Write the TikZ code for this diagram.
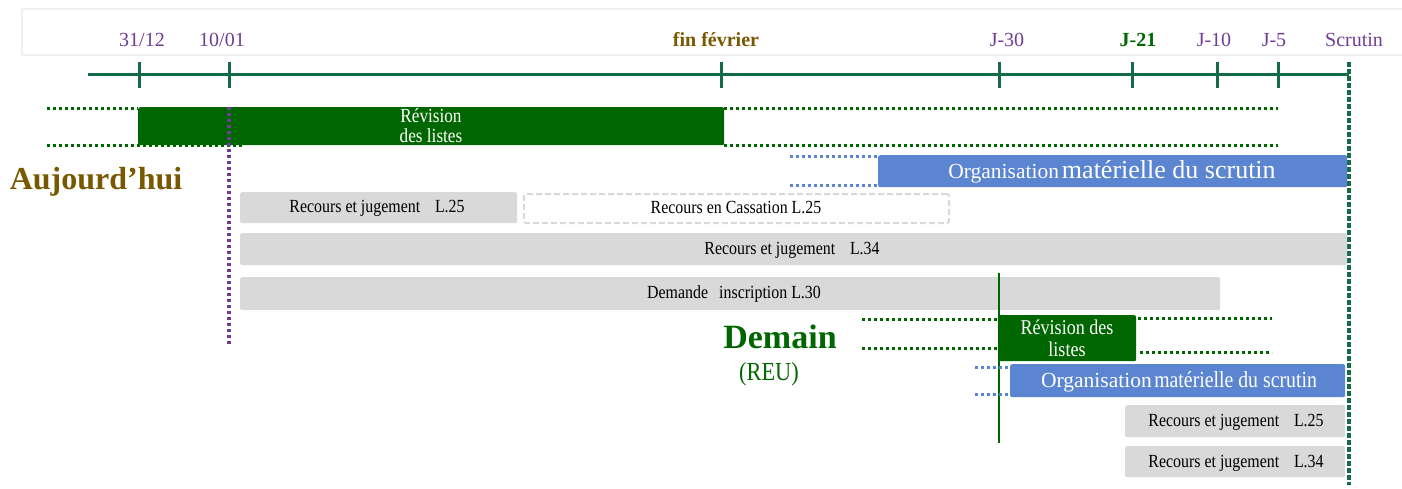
\documentclass[tikz,border=0pt]{standalone}
\usepackage{fontspec}
\setmainfont{Liberation Serif}
\newfontfamily\cond{Liberation Serif}[FakeStretch=0.86]
\definecolor{axisgreen}{RGB}{20,108,70}
\definecolor{boxgreen}{RGB}{0,102,0}
\definecolor{labpurple}{RGB}{112,60,150}
\definecolor{brownish}{RGB}{120,88,0}
\definecolor{orgblue}{RGB}{91,133,208}
\definecolor{boxgray}{RGB}{217,217,217}
\definecolor{framegray}{RGB}{240,240,240}
\newcommand{\fsz}[1]{\fontsize{#1}{#1}\selectfont}
\begin{document}
\begin{tikzpicture}[x=1pt,y=-1pt,
  datelab/.style={text=labpurple,font=\fsz{20}},
  graytxt/.style={font=\cond\fsz{18.5},inner sep=0pt},
  graybox/.style={fill=boxgray,rounded corners=2pt,inner sep=0pt,anchor=north west},
  dashbox/.style={draw=boxgray,line width=2pt,dash pattern=on 6pt off 3pt,fill=white,rounded corners=2pt,inner sep=0pt,anchor=north west},
  greenbox/.style={fill=boxgreen,inner sep=0pt,anchor=north west,rounded corners=2pt},
  bluebox/.style={fill=orgblue,inner sep=0pt,anchor=north west,rounded corners=2pt},
  gdots/.style={draw=boxgreen,line width=3pt,dash pattern=on 3pt off 3pt},
  bdots/.style={draw=orgblue,line width=3pt,dash pattern=on 3pt off 3pt},
  tickmark/.style={draw=axisgreen,line width=3pt}]
\useasboundingbox (0,0) rectangle (1402,488);
% header frame
\draw[framegray,line width=1.5pt] (1405,9) -- (22,9) -- (22,55) -- (1405,55);
% date labels
\node[datelab] (d1) at (142,40) {31/12};
\node[datelab] (d2) at (222,40) {10/01};
\node[text=brownish,font=\bfseries\fsz{20}] (d3) at (716,40) {fin février};
\node[datelab] (d4) at (1007,40) {J-30};
\node[text=boxgreen,font=\bfseries\fsz{20}] (d5) at (1138,40) {J-21};
\node[datelab] (d6) at (1214,40) {J-10};
\node[datelab] (d7) at (1274,40) {J-5};
\node[datelab] (d8) at (1354,40) {Scrutin};
% axis
\coordinate (axL) at (88,74);
\coordinate (axR) at (1349,74);
\draw[tickmark] (axL) -- (axR);
\foreach \x in {139,229,721,999,1132,1217,1278}{\draw[tickmark] (\x,62) -- (\x,88);}
% scrutin line
\coordinate (scT) at (1349,62);
\coordinate (scB) at (1349,485);
\draw[draw=axisgreen,line width=4.5pt,dash pattern=on 4.5pt off 2.5pt] (scT) -- (scB);
% revision 1
\coordinate (g1a) at (47,108); \coordinate (g1b) at (138,108);
\coordinate (g1c) at (47,145); \coordinate (g1d) at (244,145);
\coordinate (g1e) at (724,108); \coordinate (g1f) at (1278,108);
\coordinate (g1g) at (724,145); \coordinate (g1h) at (1278,145);
\node[greenbox,minimum width=586pt,minimum height=38pt] (rev1) at (138,107) {};
\node[text=white,font=\cond\fsz{20},align=center,inner sep=0pt] (rev1t) at (431,126) {Révision\\[0pt] des listes};
\draw[gdots] (g1a) -- (g1b);
\draw[gdots] (g1c) -- (g1d);
\draw[gdots] (g1e) -- (g1f);
\draw[gdots] (g1g) -- (g1h);
% today line
\coordinate (tdT) at (229,107);
\coordinate (tdB) at (229,345);
\draw[draw=labpurple,line width=3.2pt,dash pattern=on 3pt off 3pt] (tdT) -- (tdB);
% Aujourd'hui
\node[text=brownish,font=\bfseries\fsz{32}] (auj) at (96,182) {Aujourd’hui};
% organisation 1
\coordinate (b1a) at (790,156); \coordinate (b1b) at (878,156);
\coordinate (b1c) at (790,185); \coordinate (b1d) at (878,185);
\draw[bdots] (b1a) -- (b1b);
\draw[bdots] (b1c) -- (b1d);
\node[bluebox,minimum width=469pt,minimum height=32pt] (org1) at (878,155) {};
\node[text=white,inner sep=0pt] (org1t) at (1112,172) {{\fsz{21.5}Organisation}\hspace{0.3em}{\fsz{26}matérielle du scrutin}};
% recours boxes
\node[graybox,minimum width=277pt,minimum height=31pt] (rj25) at (240,192) {};
\node[graytxt] (rj25t) at (377,208) {Recours et jugement\hspace{0.8em}L.25};
\node[dashbox,minimum width=425pt,minimum height=29pt] (cass) at (523,193) {};
\node[graytxt] (casst) at (736,208) {Recours en Cassation L.25};
\node[graybox,minimum width=1107pt,minimum height=32pt] (rj34) at (240,233) {};
\node[graytxt] (rj34t) at (792,250) {Recours et jugement\hspace{0.8em}L.34};
\node[graybox,minimum width=980pt,minimum height=33pt] (dem) at (240,277) {};
\node[graytxt] (demt) at (734,294) {Demande\hspace{0.6em}inscription L.30};
% demain line
\coordinate (dmT) at (999,273);
\coordinate (dmB) at (999,443);
\draw[draw=boxgreen,line width=2pt] (dmT) -- (dmB);
% Demain
\node[text=boxgreen,font=\bfseries\fsz{34}] (dmn) at (780,337) {Demain};
\node[text=boxgreen,font=\cond\fsz{26}] (reu) at (769,374) {(REU)};
% revision 2
\coordinate (g2a) at (862,319); \coordinate (g2b) at (998,319);
\coordinate (g2c) at (862,348); \coordinate (g2d) at (998,348);
\coordinate (g2e) at (1138,318); \coordinate (g2f) at (1272,318);
\coordinate (g2g) at (1140,352); \coordinate (g2h) at (1272,352);
\draw[gdots] (g2a) -- (g2b);
\draw[gdots] (g2c) -- (g2d);
\draw[gdots] (g2e) -- (g2f);
\draw[gdots] (g2g) -- (g2h);
\node[greenbox,minimum width=138pt,minimum height=46pt] (rev2) at (998,315) {};
\node[text=white,font=\cond\fsz{21},align=center,inner sep=0pt] (rev2t) at (1067,338) {Révision des\\[1pt] listes};
% organisation 2
\coordinate (b2a) at (975,367); \coordinate (b2b) at (1010,367);
\coordinate (b2c) at (975,394); \coordinate (b2d) at (1010,394);
\draw[bdots] (b2a) -- (b2b);
\draw[bdots] (b2c) -- (b2d);
\node[bluebox,minimum width=335pt,minimum height=33pt] (org2) at (1010,364) {};
\node[text=white,inner sep=0pt] (org2t) at (1179,382) {{\fsz{21.5}Organisation}\hspace{0.25em}{\cond\fsz{23}matérielle du scrutin}};
% late recours
\node[graybox,minimum width=220pt,minimum height=32pt] (rj25b) at (1125,405) {};
\node[graytxt] (rj25bt) at (1236,422) {Recours et jugement\hspace{0.8em}L.25};
\node[graybox,minimum width=220pt,minimum height=31pt] (rj34b) at (1125,446) {};
\node[graytxt] (rj34bt) at (1236,463) {Recours et jugement\hspace{0.8em}L.34};
\end{tikzpicture}
\end{document}
